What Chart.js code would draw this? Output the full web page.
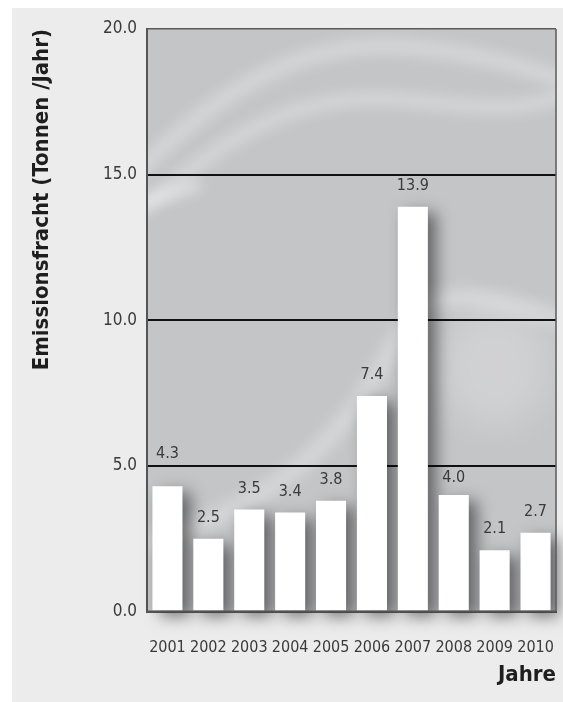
<!DOCTYPE html>
<html>
<head>
<meta charset="utf-8">
<script src="https://cdn.jsdelivr.net/npm/chart.js@4.4.1/dist/chart.umd.min.js"></script>
<style>
  html, body { margin: 0; padding: 0; background: #ffffff; }
  #wrap { width: 563px; height: 702px; position: relative; }
</style>
</head>
<body>
<div id="wrap"><canvas id="c" width="563" height="702"></canvas></div>
<script>
// ---- data ----
const categories = ['2001', '2002', '2003', '2004', '2005', '2006', '2007', '2008', '2009', '2010'];
const emissions = [4.3, 2.5, 3.5, 3.4, 3.8, 7.4, 13.9, 4.0, 2.1, 2.7];
const yTickValues = [0, 5, 10, 15, 20];
const yTitle = 'Emissionsfracht (Tonnen /Jahr)';
const xTitle = 'Jahre';

const FONT = "'Liberation Sans Narrow', 'Arial Narrow', 'DejaVu Sans Condensed', sans-serif";
const TEXT = '#3a3a3a';

const backgroundPlugin = {
  id: 'bg',
  beforeDraw(chart) {
    const ctx = chart.ctx;
    const a = chart.chartArea;
    ctx.save();
    ctx.fillStyle = '#ffffff';
    ctx.fillRect(0, 0, chart.width, chart.height);
    ctx.fillStyle = '#ececec';
    ctx.fillRect(12, 8, chart.width - 12, chart.height - 8);
    ctx.fillStyle = '#c4c5c7';
    ctx.fillRect(a.left, a.top, a.right - a.left, a.bottom - a.top);
    // decorative soft swooshes
    ctx.beginPath();
    ctx.rect(a.left, a.top, a.right - a.left, a.bottom - a.top);
    ctx.clip();
    const X = f => a.left + f * (a.right - a.left);
    const Y = f => a.top + f * (a.bottom - a.top);
    ctx.filter = 'blur(7px)';
    ctx.lineCap = 'round';
    ctx.strokeStyle = 'rgba(255,255,255,0.30)';
    ctx.lineWidth = 16;
    ctx.beginPath();
    ctx.moveTo(X(-0.03), Y(0.25));
    ctx.bezierCurveTo(X(0.18), Y(0.10), X(0.38), Y(0.02), X(0.62), Y(0.03));
    ctx.bezierCurveTo(X(0.80), Y(0.04), X(0.90), Y(0.06), X(1.03), Y(0.09));
    ctx.stroke();
    ctx.lineWidth = 14;
    ctx.beginPath();
    ctx.moveTo(X(-0.03), Y(0.32));
    ctx.bezierCurveTo(X(0.20), Y(0.18), X(0.36), Y(0.11), X(0.60), Y(0.12));
    ctx.bezierCurveTo(X(0.78), Y(0.13), X(0.90), Y(0.15), X(1.03), Y(0.11));
    ctx.stroke();
    ctx.strokeStyle = 'rgba(255,255,255,0.5)';
    ctx.lineWidth = 10;
    ctx.beginPath();
    ctx.moveTo(X(-0.02), Y(0.30));
    ctx.lineTo(X(0.12), Y(0.27));
    ctx.stroke();
    ctx.strokeStyle = 'rgba(255,255,255,0.30)';
    ctx.lineWidth = 18;
    ctx.beginPath();
    ctx.moveTo(X(0.02), Y(0.88));
    ctx.bezierCurveTo(X(0.25), Y(0.82), X(0.45), Y(0.76), X(0.62), Y(0.52));
    ctx.bezierCurveTo(X(0.70), Y(0.42), X(0.85), Y(0.47), X(1.03), Y(0.50));
    ctx.stroke();
    ctx.filter = 'blur(18px)';
    ctx.fillStyle = 'rgba(255,255,255,0.22)';
    ctx.beginPath();
    ctx.ellipse(X(0.85), Y(0.58), 55, 60, 0, 0, Math.PI * 2);
    ctx.fill();
    ctx.filter = 'none';
    ctx.restore();
  }
};

const barsPlugin = {
  id: 'barsfx',
  beforeDatasetsDraw(chart) {
    const ctx = chart.ctx;
    ctx.save();
    ctx.shadowColor = 'rgba(0,0,0,0.5)';
    ctx.shadowBlur = 16;
    ctx.shadowOffsetX = 8;
    ctx.shadowOffsetY = 6;
  },
  afterDatasetsDraw(chart) {
    const ctx = chart.ctx;
    ctx.restore();
    const a = chart.chartArea;
    const yScale = chart.scales.y;
    // frame: right border, redraw bottom axis line
    ctx.save();
    ctx.strokeStyle = '#5a5a5a';
    ctx.lineWidth = 1.5;
    ctx.beginPath();
    ctx.moveTo(a.right, a.top);
    ctx.lineTo(a.right, a.bottom);
    ctx.stroke();
    ctx.lineWidth = 2;
    ctx.strokeStyle = '#555555';
    ctx.beginPath();
    ctx.moveTo(a.left - 1, a.bottom);
    ctx.lineTo(a.right, a.bottom);
    ctx.stroke();
    // value labels
    const gridYs = yTickValues.filter(v => v > 0 && v < 20).map(v => yScale.getPixelForValue(v));
    ctx.font = '16px ' + FONT;
    ctx.fillStyle = TEXT;
    ctx.textAlign = 'center';
    ctx.textBaseline = 'middle';
    const meta = chart.getDatasetMeta(0);
    meta.data.forEach((bar, i) => {
      let cy = bar.y - 21;
      gridYs.forEach(g => {
        if (Math.abs(cy - g) < 10) cy = cy < g ? g - 12 : g + 12;
      });
      ctx.fillText(emissions[i].toFixed(1), bar.x, cy);
    });
    ctx.restore();
  }
};

new Chart(document.getElementById('c'), {
  type: 'bar',
  data: {
    labels: categories,
    datasets: [{
      data: emissions,
      backgroundColor: '#ffffff',
      borderWidth: 0,
      barPercentage: 0.735,
      categoryPercentage: 1.0,
      clip: false
    }]
  },
  options: {
    responsive: false,
    animation: false,
    devicePixelRatio: 1,
    layout: { padding: { left: 29, right: 7, top: 29, bottom: 0 } },
    plugins: {
      legend: { display: false },
      tooltip: { enabled: false }
    },
    scales: {
      x: {
        grid: { display: false, drawTicks: true, tickLength: 25 },
        border: { display: true, color: '#555555', width: 2 },
        ticks: { color: TEXT, font: { family: FONT, size: 16 }, padding: 2, maxRotation: 0, autoSkip: false },
        title: {
          display: true, text: xTitle, align: 'end', color: '#1e1e1e',
          font: { family: FONT, size: 22, weight: 'bold' },
          padding: { top: 0, bottom: 14 }
        },
        afterFit(scale) { scale.height = 90.5; }
      },
      y: {
        min: 0, max: 20,
        afterBuildTicks(scale) { scale.ticks = yTickValues.map(v => ({ value: v })); },
        grid: {
          drawTicks: false,
          color: ctx => (ctx.tick && ctx.tick.value === 20) ? '#5a5a5a' : (ctx.tick && ctx.tick.value === 0 ? 'rgba(0,0,0,0)' : '#111111'),
          lineWidth: ctx => (ctx.tick && ctx.tick.value === 20) ? 1.5 : 2
        },
        border: { display: true, color: '#555555', width: 2 },
        ticks: {
          color: TEXT, font: { family: FONT, size: 17 }, padding: 10,
          callback: v => Number(v).toFixed(1)
        },
        title: {
          display: true, text: yTitle, align: 'end', color: '#1e1e1e',
          font: { family: FONT, size: 22, weight: 'bold' },
          padding: { top: 0, bottom: 0 }
        },
        afterFit(scale) { scale.width = 118; }
      }
    }
  },
  plugins: [backgroundPlugin, barsPlugin]
});
</script>
</body>
</html>
